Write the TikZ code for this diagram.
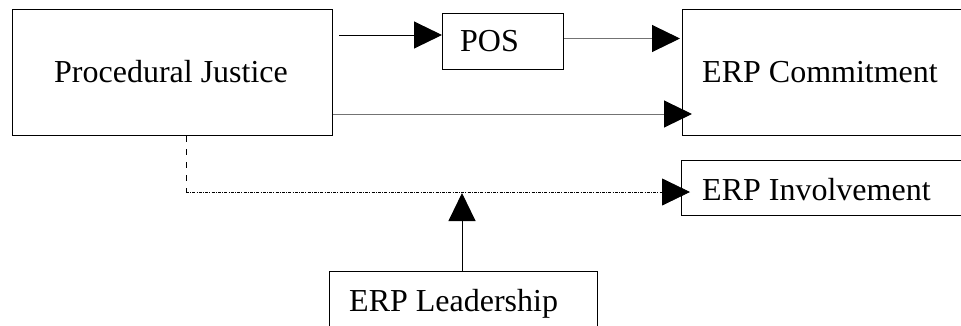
\documentclass[tikz,border=0pt]{standalone}
\usepackage{fontspec}
\setmainfont{Liberation Serif}
\usetikzlibrary{arrows.meta,calc}
\begin{document}
\begin{tikzpicture}[x=1pt,y=-1pt,
  box/.style={draw=black,line width=1pt,fill=none,inner sep=0pt,anchor=north west},
  lbl/.style={font=\fontsize{32}{36}\selectfont,inner sep=0pt},
  tip/.style={-{Triangle[length=28pt,width=27pt,color=black]}},
  arrA/.style={tip,draw=black,line width=1pt},
  arrB/.style={tip,draw=black!55,line width=1pt},
  dashv/.style={draw=black,line width=1pt,dash pattern=on 6pt off 7pt},
  dashh/.style={tip,draw=black,line width=0.8pt,dash pattern=on 3pt off 1.2pt on 1pt off 1.2pt}]
\useasboundingbox (0,0) rectangle (961,325);
\clip (0,0) rectangle (961,325);
% boxes
\node[box,minimum width=320pt,minimum height=126pt] (pj) at (12,9) {};
\node[box,minimum width=121pt,minimum height=56pt] (pos) at (442,13) {};
\node[box,minimum width=300pt,minimum height=126pt] (com) at (682,9) {};
\node[box,minimum width=300pt,minimum height=55pt] (inv) at (681,160) {};
\node[box,minimum width=268pt,minimum height=80pt] (lead) at (329,271) {};
% labels
\node[lbl] (tpj) at (171,72) {Procedural Justice};
\node[lbl,anchor=base west] (tpos) at (460,51) {POS};
\node[lbl] (tcom) at (820,72) {ERP Commitment};
\node[lbl,anchor=base west] (tinv) at (702,200) {ERP Involvement};
\node[lbl,anchor=base west] (tlead) at (349,311) {ERP Leadership};
% connectors
\coordinate (s1) at ($(pj.north east)+(6,26)$);
\draw[arrA] (s1) -- (s1 -| pos.west);
\coordinate (s2) at ($(pos.east)+(0,-3)$);
\draw[arrB] (s2) -- ($(s2 -| com.west)+(-2,0)$);
\coordinate (s3) at ($(pj.south east)+(0,-22)$);
\draw[arrB] (s3) -- ($(s3 -| com.west)+(10,0)$);
\coordinate (d1) at ($(pj.south west)+(174,0)$);
\coordinate (d2) at ($(d1)+(0,56)$);
\draw[dashv] (d1) -- (d2);
\draw[dashh] (d2) -- ($(d2 -| inv.west)+(9,0)$);
\coordinate (l1) at ($(lead.north west)+(133,0)$);
\draw[arrA] (l1) -- ($(l1 |- d2)+(0,1)$);
\end{tikzpicture}
\end{document}
